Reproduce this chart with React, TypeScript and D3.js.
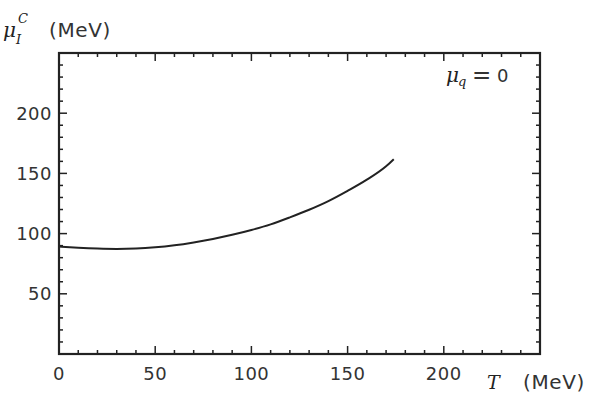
import React from "react";
import * as d3 from "d3";

const temps = [0, 10, 20, 30, 40, 50, 60, 70, 80, 90, 100, 110, 120, 130, 140, 150, 160, 170, 174];
const muIC = [89.3, 88.3, 87.6, 87.3, 87.6, 88.6, 90.3, 92.7, 95.6, 99, 103, 107.7, 113.5, 119.8, 127, 135.5, 144.8, 156, 161.8];
const xTickLabels = [0, 50, 100, 150, 200];
const yTickLabels = [50, 100, 150, 200];

const W = 599, H = 418;
const L = 59, R = 540, T = 53, B = 354;

export default function App() {
  const x = d3.scaleLinear().domain([0, 250]).range([L, R]);
  const y = d3.scaleLinear().domain([0, 250]).range([B, T]);
  const line = d3.line<number>().x((_, i) => x(temps[i])).y((d) => y(d)).curve(d3.curveMonotoneX);
  const minor = d3.range(10, 250, 10);
  const font = "'DejaVu Sans', sans-serif";
  const serif = "'DejaVu Serif', serif";
  const col = "#222";
  const tcol = "#333";
  return (
    <svg width={W} height={H} style={{ position: "absolute", left: 0, top: 0, background: "#fff" }}>
      {minor.map((v) => {
        const major = v % 50 === 0;
        const len = major ? 8 : 4;
        return (
          <g key={v} stroke={col} strokeWidth={1.5}>
            <line x1={x(v)} x2={x(v)} y1={B} y2={B - len} />
            <line x1={x(v)} x2={x(v)} y1={T} y2={T + len} />
            <line x1={L} x2={L + len} y1={y(v)} y2={y(v)} />
            <line x1={R} x2={R - len} y1={y(v)} y2={y(v)} />
          </g>
        );
      })}
      <rect x={L} y={T} width={R - L} height={B - T} fill="none" stroke={col} strokeWidth={2.2} />
      <path d={line(muIC) || ""} fill="none" stroke={col} strokeWidth={2} />
      {xTickLabels.map((v) => (
        <text key={v} x={x(v)} y={380} textAnchor="middle" fontFamily={font} fontSize={18} fill={tcol} letterSpacing={0.5}>{v}</text>
      ))}
      {yTickLabels.map((v) => (
        <text key={v} x={52} y={y(v) + 6.5} textAnchor="end" fontFamily={font} fontSize={18} fill={tcol} letterSpacing={0.5}>{v}</text>
      ))}
      <text x={3} y={37} fontFamily={serif} fontStyle="italic" fontSize={20} fill={col}>μ</text>
      <text x={18} y={23} fontFamily={serif} fontStyle="italic" fontSize={13} fill={col}>C</text>
      <text x={16} y={44} fontFamily={serif} fontStyle="italic" fontSize={13} fill={col}>I</text>
      <text x={49} y={37} fontFamily={font} fontSize={20} fill={tcol} letterSpacing={0.6}>(MeV)</text>
      <text x={487} y={389} fontFamily={serif} fontStyle="italic" fontSize={19} fill={col}>T</text>
      <text x={523} y={389} fontFamily={font} fontSize={20} fill={tcol} letterSpacing={0.6}>(MeV)</text>
      <text x={446} y={82} fontFamily={serif} fontStyle="italic" fontSize={20} fill={col}>μ</text>
      <text x={458} y={86} fontFamily={serif} fontStyle="italic" fontSize={13} fill={col}>q</text>
      <text x={472} y={83} fontFamily={font} fontSize={23} fill={tcol}>=</text>
      <text x={497} y={82} fontFamily={font} fontSize={18} fill={tcol}>0</text>
    </svg>
  );
}
